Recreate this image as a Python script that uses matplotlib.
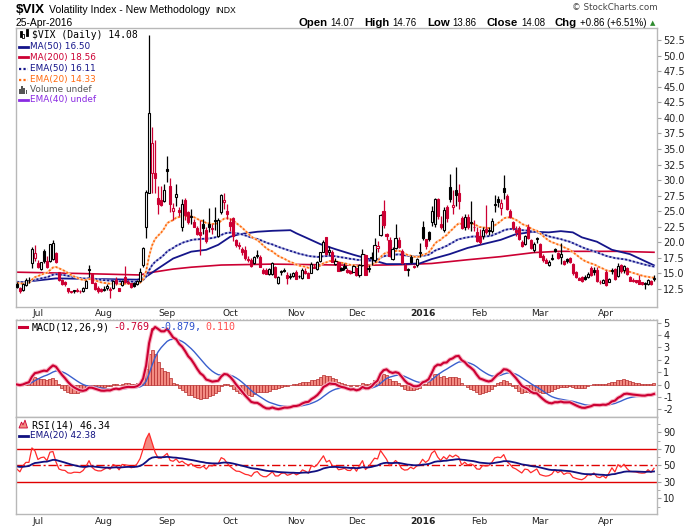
import matplotlib
matplotlib.use("Agg")
import matplotlib.pyplot as plt
import matplotlib.patheffects as pe
from matplotlib.lines import Line2D
from matplotlib.patches import Rectangle, Polygon
import numpy as np

W, H = 700, 530

# DATA. $VIX daily candles, 22-Jun-2015 .. 25-Apr-2016 (one value per trading day).
opens = [
    13.3, 12.6, 12.3, 13.2, 13.9, 16.7, 17.4,                                   # Jun
    16.7, 15.7, 18.6, 17.0, 17.0, 17.3, 18.3, 15.2, 13.9, 13.6, 12.6, 12.1,     # Jul
    12.2, 12.3, 12.2, 12.1, 12.7, 15.7, 14.9, 13.4, 12.7, 12.5,
    12.3, 12.6, 12.3, 12.6, 13.9, 12.6, 13.2, 14.5, 13.6, 13.4, 13.5, 13.3,     # Aug
    13.8, 16.4, 22.5, 27.9, 31.1, 31.2, 27.1, 26.8, 26.7,
    31.75, 29.1, 25.0, 27.3, 25.2, 22.4, 26.8, 24.8, 24.0, 23.3, 22.3, 21.6,    # Sep
    22.9, 22.0, 22.9, 22.3, 23.6, 21.0, 24.9, 26.5, 25.0,
    23.2, 23.9, 20.3, 19.6, 19.0, 18.8, 17.3, 17.2, 16.6, 17.8, 17.6, 15.6,     # Oct
    15.5, 14.9, 14.9, 16.0, 13.5, 15.2, 15.6, 14.7, 14.4, 14.6,
    15.2, 14.6, 14.3, 15.4, 15.0, 15.1, 15.9, 15.7, 17.0, 18.5, 20.8, 18.5,     # Nov
    18.5, 16.5, 16.8, 15.8, 16.2, 15.6, 15.4, 15.3,
    15.9, 14.7, 16.3, 17.9, 15.7, 17.4, 17.1, 19.1, 21.2, 25.0, 21.3, 20.3,     # Dec
    17.3, 19.1, 20.4, 18.6, 16.4, 15.5, 17.6, 16.1, 16.3, 18.4,
    22.5, 20.5, 21.7, 23.2, 22.9, 27.0, 23.0, 22.0, 25.6, 28.9, 25.6, 28.4,     # Jan
    28.0, 23.9, 22.4, 24.0, 23.3, 22.5, 21.6,
    21.0, 21.0, 22.2, 22.0, 21.9, 26.1, 26.9, 25.5, 28.7, 27.5, 25.1, 23.2,     # Feb
    22.0, 22.3, 20.0, 19.7, 22.5, 20.3, 18.8, 20.7,
    19.8, 17.8, 17.1, 16.3, 17.5, 18.9, 18.3, 17.6, 17.0, 17.3, 17.4, 16.5,     # Mar
    15.3, 14.2, 14.4, 14.4, 14.4, 15.9, 15.6, 15.6, 13.7, 13.5,
    15.3, 13.7, 15.6, 15.7, 14.6, 16.3, 15.5, 15.9, 14.5, 13.9, 13.9, 14.0,     # Apr
    13.6, 13.5, 13.3, 13.8, 14.07,
]
highs = [
    13.6, 12.8, 13.4, 14.3, 14.5, 19.3, 19.6,
    17.2, 16.9, 18.9, 17.8, 19.8, 20.3, 18.4, 15.3, 14.1, 13.8, 12.7, 12.2,
    12.4, 12.6, 12.4, 12.8, 14.0, 16.3, 15.0, 13.6, 13.0, 12.7,
    12.9, 13.3, 12.8, 14.0, 14.4, 12.7, 14.0, 16.2, 13.9, 13.5, 13.7, 13.9,
    15.8, 19.3, 28.4, 53.29, 38.5, 36.4, 29.1, 29.0, 29.3,
    33.8, 30.4, 26.3, 29.4, 25.7, 26.9, 27.1, 25.0, 25.3, 23.8, 22.6, 23.6,
    23.8, 22.4, 25.5, 22.9, 25.6, 23.9, 27.8, 28.0, 26.1,
    23.9, 24.0, 20.5, 20.1, 19.3, 19.4, 17.8, 17.4, 17.8, 18.7, 17.9, 15.9,
    15.8, 15.9, 16.9, 16.2, 14.6, 15.5, 15.9, 15.2, 15.0, 15.3,
    15.6, 14.7, 15.8, 15.9, 15.3, 16.8, 16.5, 17.0, 18.5, 20.4, 20.9, 19.4,
    18.7, 17.5, 16.9, 16.1, 16.6, 15.9, 15.6, 16.3,
    16.0, 16.5, 19.0, 18.2, 16.3, 18.4, 20.7, 20.2, 24.5, 26.8, 21.5, 20.8,
    19.2, 22.9, 20.8, 19.0, 16.6, 15.9, 17.9, 16.4, 17.4, 19.9,
    23.4, 20.6, 21.9, 25.9, 27.1, 27.1, 24.3, 25.7, 26.0, 30.95, 28.4, 32.09,
    29.4, 24.3, 24.5, 24.5, 26.6, 23.6, 22.4,
    22.1, 22.4, 26.0, 22.5, 23.9, 27.6, 27.5, 27.0, 30.9, 27.8, 25.4, 23.5,
    22.7, 22.6, 20.3, 21.1, 23.0, 20.5, 20.0, 20.9,
    19.9, 18.1, 17.4, 17.1, 18.1, 19.1, 18.4, 19.9, 17.2, 17.5, 17.6, 16.7,
    15.4, 14.5, 14.6, 14.8, 15.2, 16.2, 16.1, 16.0, 13.9, 14.1,
    15.6, 14.2, 15.8, 15.8, 16.7, 16.5, 16.4, 16.1, 14.6, 14.3, 14.0, 14.8,
    13.7, 13.6, 14.1, 13.9, 14.76,
]
lows = [
    12.6, 11.8, 12.1, 13.0, 13.5, 15.9, 17.0,
    15.9, 15.5, 16.6, 15.9, 16.9, 17.2, 16.7, 13.8, 13.2, 12.9, 11.9, 11.8,
    11.9, 12.0, 11.9, 12.0, 12.6, 14.5, 13.4, 12.4, 11.9, 12.0,
    12.1, 12.4, 11.1, 12.5, 13.2, 12.2, 13.0, 13.4, 13.3, 12.6, 12.8, 13.1,
    13.7, 16.1, 20.7, 27.9, 27.9, 27.9, 24.5, 25.9, 26.5,
    29.7, 24.9, 23.6, 25.8, 24.2, 21.9, 23.6, 22.9, 23.0, 22.4, 21.1, 17.9,
    21.4, 19.9, 21.7, 21.4, 22.0, 20.8, 24.5, 25.4, 23.7,
    21.9, 20.2, 19.3, 19.0, 17.9, 17.1, 16.9, 16.0, 16.5, 17.4, 16.0, 14.9,
    14.9, 14.8, 14.7, 14.3, 13.3, 14.8, 15.2, 13.3, 14.1, 14.4,
    14.1, 14.3, 14.1, 14.9, 14.2, 15.0, 15.8, 15.6, 16.9, 18.4, 18.0, 17.9,
    16.8, 16.3, 15.4, 15.4, 15.5, 15.0, 14.9, 15.2,
    14.6, 14.5, 16.2, 14.8, 15.2, 16.4, 16.9, 18.5, 21.0, 22.3, 20.3, 17.7,
    17.1, 18.9, 19.1, 16.5, 15.5, 14.6, 16.7, 15.8, 16.1, 17.6,
    20.4, 18.9, 20.2, 22.6, 22.5, 23.8, 22.2, 21.7, 23.2, 26.5, 24.5, 25.8,
    25.4, 22.1, 22.0, 22.2, 21.8, 21.9, 20.0,
    19.7, 20.6, 21.3, 21.1, 21.5, 24.9, 25.6, 24.4, 26.9, 25.2, 23.9, 22.0,
    21.0, 20.3, 19.2, 19.5, 20.6, 19.0, 18.4, 19.9,
    17.6, 16.9, 16.6, 16.2, 17.1, 18.4, 17.3, 16.5, 16.4, 16.6, 16.7, 14.8,
    14.3, 13.9, 13.7, 14.0, 14.3, 14.6, 14.8, 13.6, 13.3, 13.4,
    13.0, 13.6, 14.9, 13.9, 14.5, 15.1, 15.1, 14.8, 13.8, 13.6, 13.5, 13.3,
    13.1, 12.5, 13.2, 13.1, 13.86,
]
closes = [
    12.74, 12.11, 13.26, 14.01, 14.02, 18.85, 18.23,
    16.09, 16.79, 17.01, 16.09, 19.66, 19.97, 16.83, 13.90, 13.37, 13.23, 12.11, 11.95,
    12.25, 12.22, 12.12, 12.64, 13.74, 15.60, 13.44, 12.50, 12.13, 12.12,
    12.56, 13.00, 12.51, 13.77, 13.39, 12.23, 13.71, 13.61, 13.49, 12.83, 13.02, 13.79,
    15.25, 19.14, 28.03, 40.74, 36.02, 30.32, 26.10, 26.05, 28.43,
    31.40, 26.09, 25.45, 27.80, 24.90, 26.23, 24.37, 23.20, 24.25, 22.54, 21.35, 21.14,
    22.28, 20.14, 22.44, 22.13, 23.47, 23.62, 27.63, 26.83, 24.50,
    22.55, 20.94, 19.54, 19.40, 18.40, 17.42, 17.08, 16.17, 17.67, 18.03, 16.05, 15.05,
    14.98, 15.75, 16.70, 14.45, 14.46, 15.29, 15.43, 14.33, 14.61, 15.07,
    14.15, 14.54, 15.51, 15.05, 14.33, 16.52, 16.06, 16.87, 18.37, 20.08, 18.16, 18.84,
    16.85, 16.99, 15.47, 15.62, 15.93, 15.19, 15.12, 16.13,
    14.67, 16.37, 18.11, 14.81, 15.84, 17.60, 19.61, 19.34, 24.39, 22.73, 20.95, 17.86,
    18.94, 20.70, 19.32, 16.60, 15.57, 15.74, 16.91, 16.08, 17.29, 18.21,
    20.70, 19.34, 20.59, 24.99, 27.01, 24.30, 22.47, 25.22, 23.95, 27.02, 26.05, 27.59,
    26.69, 22.34, 24.15, 22.50, 23.11, 22.42, 20.20,
    19.98, 21.98, 21.65, 21.84, 23.38, 26.00, 26.54, 26.29, 28.14, 25.40, 24.11, 22.31,
    21.64, 20.53, 19.38, 20.98, 20.72, 19.11, 19.81, 20.55,
    17.70, 17.09, 16.70, 16.86, 17.35, 18.67, 17.50, 18.05, 16.50, 16.92, 16.84, 14.99,
    14.44, 14.02, 13.79, 14.17, 14.94, 14.74, 15.24, 13.82, 13.56, 13.95,
    13.10, 14.12, 15.42, 14.09, 16.16, 15.36, 16.26, 14.85, 13.84, 13.72, 13.62, 13.35,
    13.24, 13.28, 13.95, 13.22, 14.08,
]

# Simple moving averages (trading-day index, value).
ma50_idx = [0, 13, 40, 42, 44, 47, 52, 58, 63, 67, 71, 74, 80, 85, 91, 93, 96, 101, 106,
            112, 118, 123, 128, 134, 138, 144, 150, 155, 161, 166, 172, 177, 181, 185,
            188, 193, 198, 204, 208, 212]
ma50_val = [13.5, 14.2, 14.0, 14.2, 14.8, 15.8, 17.4, 18.5, 18.8, 19.6, 20.9, 21.3, 21.7,
            21.85, 21.95, 21.45, 20.8, 19.7, 18.9, 18.0, 17.2, 16.5, 16.5, 16.6, 17.3,
            18.1, 19.1, 19.7, 20.4, 21.3, 21.7, 21.6, 21.8, 21.6, 20.8, 20.1, 18.8, 18.1,
            17.2, 16.3]
ma200_idx = [0, 20, 41, 44, 52, 58, 68, 85, 100, 115, 128, 138, 150, 161, 172, 180, 200, 212]
ma200_val = [15.2, 15.0, 14.75, 15.1, 15.7, 16.0, 16.35, 16.5, 16.4, 16.3, 16.4, 16.6,
             17.2, 17.7, 18.35, 18.55, 18.55, 18.4]

# Starting levels of the exponential averages at the left edge of the chart.
ema20_start = 13.6
ema50_start = 13.7
rsi_start_gain, rsi_start_loss = 0.30, 0.36
rsi_ema_start = 49.0

month_idx = [7, 29, 50, 71, 93, 113, 135, 154, 174, 196]
month_lbl = ["Jul", "Aug", "Sep", "Oct", "Nov", "Dec", "2016", "Feb", "Mar", "Apr"]

main_ticks = [12.5 + 2.5 * k for k in range(17)]
macd_ticks = [5, 4, 3, 2, 1, 0, -1, -2]
rsi_ticks = [90, 70, 50, 30, 10]

RED = "#cc0033"
NAVY = "#15158a"
ORANGE = "#ff6a10"
GREY = "#b8b8b8"


def ema(values, n, seed):
    a = 2.0 / (n + 1)
    out = np.empty(len(values))
    prev = seed
    for k, v in enumerate(values):
        prev = prev + a * (v - prev)
        out[k] = prev
    return out


def fx(px):
    return px / W


def fy(py):
    return 1 - py / H


def box(top, bottom, left=16, right=657):
    return [left / W, 1 - bottom / H, (right - left) / W, (bottom - top) / H]


def style(a, ticks, fmt):
    for s in a.spines.values():
        s.set_color(GREY)
        s.set_linewidth(1.0)
    a.yaxis.tick_right()
    a.set_yticks(ticks)
    a.set_yticklabels([fmt.format(t) for t in ticks])
    a.tick_params(axis="y", length=3, width=0.8, color="#a0a0a0", pad=1.5,
                  labelsize=7, labelcolor="#222222")
    a.set_xticks([])


o, h, l, c = (np.array(v, dtype=float) for v in (opens, highs, lows, closes))
assert len(o) == len(h) == len(l) == len(c)
x = np.arange(len(c))
xlim = (-0.3, 213.0)

# Indicators.
ema20 = ema(c, 20, ema20_start)
ema50 = ema(c, 50, ema50_start)
macd = ema(c, 12, c[0]) - ema(c, 26, c[0])
signal = ema(macd, 9, 0.0)
hist = macd - signal

chg = np.diff(c, prepend=c[0])
g, lo = rsi_start_gain, rsi_start_loss
rsi = np.empty(len(c))
for k, d in enumerate(chg):
    g = (g * 13 + max(d, 0.0)) / 14
    lo = (lo * 13 + max(-d, 0.0)) / 14
    rsi[k] = 100 - 100 / (1 + g / lo)
rsi_ema = ema(rsi, 20, rsi_ema_start)

fig = plt.figure(figsize=(7, 5.3), dpi=100)
ax = fig.add_axes(box(28, 306.7))
ax_m = fig.add_axes(box(320, 416.7))
ax_r = fig.add_axes(box(416.7, 514))

# PRICE PANEL.
ax.plot(ma200_idx, ma200_val, color=RED, lw=1.2, zorder=2)
ax.plot(ma50_idx, ma50_val, color=NAVY, lw=1.3, zorder=2)
ax.plot(x, ema50, color="#a8acdc", lw=1.5, zorder=2)
ax.plot(x, ema50, color=NAVY, lw=1.2, ls=(0, (1.2, 1.2)), zorder=2)
ax.plot(x, ema20, color="#ffd2ae", lw=1.5, zorder=2)
ax.plot(x, ema20, color=ORANGE, lw=1.2, ls=(0, (1.2, 1.2)), zorder=2)

prev = np.r_[c[0], c[:-1]]
col = np.where(c >= prev, "black", RED)
face = np.where(c >= o, "white", col)
ax.vlines(x, l, h, colors=col, lw=0.9, zorder=3)
ax.bar(x, np.maximum(np.abs(c - o), 0.12), bottom=np.minimum(o, c), width=0.7,
       color=face, edgecolor=col, linewidth=0.8, zorder=4)
ax.set_xlim(*xlim)
ax.set_ylim(9.65, 54.46)
style(ax, main_ticks, "{:.1f}")

# MACD PANEL.
ax_m.bar(x, hist, width=1.0, color="#f28b82", edgecolor="#b52a2a", linewidth=0.5, zorder=2)
ax_m.plot(x, signal, color="#3a5fcd", lw=1.0, zorder=3)
ax_m.plot(x, macd, color=RED, lw=1.5, zorder=4,
          path_effects=[pe.Stroke(linewidth=3.0, foreground="#f7b3c2"), pe.Normal()])
ax_m.set_xlim(*xlim)
ax_m.set_ylim(-2.6, 5.21)
style(ax_m, macd_ticks, "{:d}")

# RSI PANEL.
ax_r.axhline(70, color="#e00000", lw=1.0)
ax_r.axhline(30, color="#e00000", lw=1.0)
ax_r.axhline(50, color="#e00000", lw=1.0, ls=(0, (6, 2, 1.5, 2)))
ax_r.fill_between(x, rsi, 70, where=rsi > 70, interpolate=True, color="#f28b82", lw=0)
ax_r.fill_between(x, rsi, 30, where=rsi < 30, interpolate=True, color="#f28b82", lw=0)
ax_r.plot(x, rsi, color="#ff2a2a", lw=0.9)
ax_r.plot(x, rsi_ema, color="#101080", lw=1.3)
ax_r.set_xlim(*xlim)
ax_r.set_ylim(-9.0, 108.9)
style(ax_r, rsi_ticks, "{:d}")
ax_r.set_yticks(range(0, 101, 20), minor=True)
ax_r.tick_params(axis="y", which="minor", length=2, color="#a0a0a0")

# Month labels under the price panel and the RSI panel.
for a, yoff in ((ax, -6.3 / 278.7), (ax_r, -7.7 / 97.3)):
    for i, s in zip(month_idx, month_lbl):
        a.text(i, yoff, s, transform=a.get_xaxis_transform(), ha="center", va="center",
               fontsize=6.6, color="#222222", fontweight="bold" if s == "2016" else "normal",
               clip_on=False)
fig.add_artist(Line2D([fx(16), fx(657)], [fy(318.5)] * 2, color="#c8c8c8", lw=0.8,
                      ls=(0, (1, 2)), transform=fig.transFigure))

# HEADER.
r = fig.canvas.get_renderer()


def chain(x0, y, parts):
    xx = x0
    for s, kw, gap in parts:
        t = fig.text(fx(xx), fy(y), s, ha="left", va="baseline", **kw)
        xx += t.get_window_extent(r).width + gap
    return xx


LIB = "Liberation Sans"
chain(16, 12.7, [("$VIX", dict(fontsize=9.6, fontweight="bold", family=LIB), 4),
                 ("Volatility Index - New Methodology", dict(fontsize=7.6, family=LIB), 5),
                 ("INDX", dict(fontsize=6.2, family=LIB), 0)])
fig.text(fx(16), fy(25.8), "25-Apr-2016", fontsize=7.4, family=LIB, va="baseline")
bold = dict(fontsize=8.2, fontweight="bold", family=LIB)
reg = dict(fontsize=6.9, family=LIB)
end = chain(298.3, 25.8, [("Open", bold, 3), ("14.07", reg, 10), ("High", bold, 3),
                          ("14.76", reg, 10), ("Low", bold, 3), ("13.86", reg, 10),
                          ("Close", bold, 3), ("14.08", reg, 10), ("Chg", bold, 3),
                          ("+0.86 (+6.51%)", reg, 3)])
fig.text(fx(end), fy(25.5), "\u25b2", fontsize=5, color="#2e8b2e", va="baseline")
fig.text(fx(658), fy(9.7), "\u00a9 StockCharts.com", fontsize=6.3, color="#444444",
         ha="right", va="baseline")

# PRICE LEGEND.
MONO = "DejaVu Sans Mono"
SANS = "DejaVu Sans"
fig.text(fx(32), fy(35), "$VIX (Daily) 14.08", fontsize=7, family=MONO, va="center")
for bx, by, bh, fill in ((19.5, 36.5, 6, True), (22.5, 38, 4, False), (25.5, 35.5, 7, True)):
    fig.add_artist(Rectangle((fx(bx), fy(by)), 2 / W, bh / H, transform=fig.transFigure,
                             facecolor="black" if fill else "white", edgecolor="black", lw=0.6))
legend_rows = [
    (46.7, "MA(50) 16.50", NAVY, "-"),
    (57.3, "MA(200) 18.56", RED, "-"),
    (68.5, "EMA(50) 16.11", NAVY, ":"),
    (79.5, "EMA(20) 14.33", ORANGE, ":"),
    (99.5, "EMA(40) undef", "#8a2be2", "-"),
]
for y, s, colr, ls in legend_rows:
    fig.add_artist(Line2D([fx(19), fx(28)], [fy(y)] * 2, color=colr, lw=2.0 if ls == "-" else 1.6,
                          ls="-" if ls == "-" else (0, (1, 1)), transform=fig.transFigure))
    fig.text(fx(29.5), fy(y), s, color=colr, fontsize=6.4, family=SANS, va="center")
for k, bh in enumerate((5, 8, 6, 4)):
    fig.add_artist(Rectangle((fx(19 + 2.2 * k), fy(94)), 1.6 / W, bh / H,
                             transform=fig.transFigure, facecolor="#555555", lw=0))
fig.text(fx(29.5), fy(90), "Volume undef", color="#555555", fontsize=6.4, family=SANS,
         va="center")

# MACD LEGEND.
fig.add_artist(Line2D([fx(19), fx(27)], [fy(327.3)] * 2, color=RED, lw=2.2,
                      transform=fig.transFigure))
chain(31.5, 330, [("MACD(12,26,9)", dict(fontsize=7.2, family=MONO), 4),
                  ("-0.769,", dict(fontsize=7.2, family=MONO, color=RED), 4),
                  ("-0.879,", dict(fontsize=7.2, family=MONO, color="#2a4fcc"), 4),
                  ("0.110", dict(fontsize=7.2, family=MONO, color="#ff4d4d"), 0)])

# RSI LEGEND.
fig.add_artist(Polygon([(fx(19), fy(428)), (fx(21.5), fy(422)), (fx(23), fy(425)),
                        (fx(25), fy(420)), (fx(27.5), fy(428))], closed=True,
                       transform=fig.transFigure, facecolor="#f28b82", edgecolor=RED, lw=0.6))
fig.text(fx(31.5), fy(425.3), "RSI(14) 46.34", fontsize=7.2, family=MONO, va="center")
fig.add_artist(Line2D([fx(19), fx(28)], [fy(435.7)] * 2, color="#101080", lw=2.0,
                      transform=fig.transFigure))
fig.text(fx(29.5), fy(435.7), "EMA(20) 42.38", color="#101080", fontsize=6.4, family=SANS,
         va="center")

fig.savefig("out.png", dpi=100)
